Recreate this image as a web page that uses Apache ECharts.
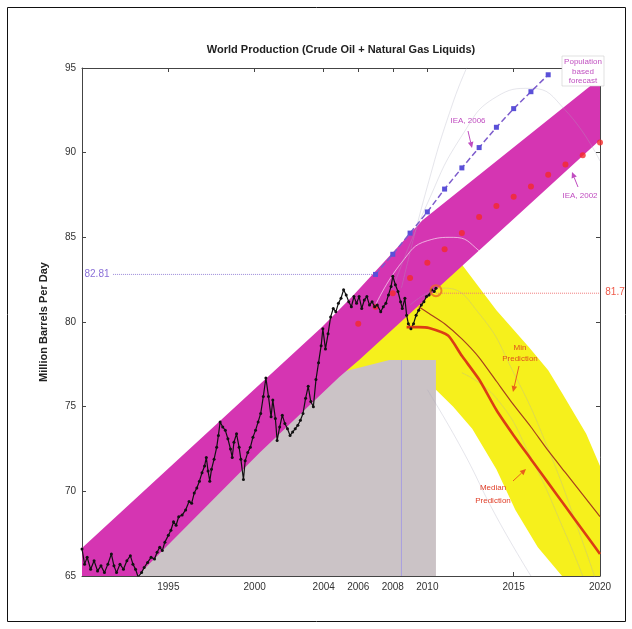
<!DOCTYPE html>
<html>
<head>
<meta charset="utf-8">
<script src="https://cdn.jsdelivr.net/npm/echarts@6/dist/echarts.min.js"></script>
<style>
html,body{margin:0;padding:0;background:#fff;}
#main{width:632px;height:629px;}
</style>
</head>
<body>
<div id="main"></div>
<script>
// tick labels
var xTicks = [1995, 2000, 2004, 2006, 2008, 2010, 2015, 2020];

// monthly-ish production
var obsYears = [1990.0,1990.15,1990.3,1990.5,1990.7,1990.9,1991.1,1991.3,1991.5,1991.7,1991.85,1992.0,1992.2,1992.4,1992.6,1992.8,1992.95,1993.1,1993.25,1993.45,1993.6,1993.8,1994.0,1994.2,1994.35,1994.5,1994.65,1994.8,1995.0,1995.15,1995.3,1995.45,1995.6,1995.8,1996.0,1996.2,1996.35,1996.5,1996.65,1996.8,1996.95,1997.1,1997.2,1997.3,1997.4,1997.5,1997.65,1997.8,1997.9,1998.0,1998.15,1998.3,1998.45,1998.6,1998.7,1998.8,1998.95,1999.1,1999.2,1999.35,1999.45,1999.6,1999.75,1999.9,2000.05,2000.2,2000.35,2000.5,2000.65,2000.8,2000.95,2001.05,2001.2,2001.3,2001.45,2001.6,2001.75,2001.9,2002.05,2002.2,2002.35,2002.5,2002.65,2002.8,2002.95,2003.1,2003.25,2003.4,2003.55,2003.7,2003.85,2003.95,2004.1,2004.25,2004.4,2004.55,2004.7,2004.85,2005.0,2005.15,2005.3,2005.45,2005.6,2005.75,2005.9,2006.05,2006.2,2006.35,2006.5,2006.65,2006.8,2006.95,2007.1,2007.3,2007.45,2007.6,2007.75,2007.9,2008.0,2008.15,2008.3,2008.45,2008.55,2008.7,2008.8,2008.9,2009.05,2009.2,2009.35,2009.5,2009.65,2009.8,2009.95,2010.1,2010.25,2010.4,2010.5];
var obsValues = [66.6,65.7,66.1,65.4,65.9,65.3,65.6,65.2,65.7,66.3,65.6,65.2,65.7,65.4,65.9,66.2,65.7,65.4,64.95,65.2,65.5,65.8,66.1,66.0,66.4,66.7,66.5,67.0,67.4,67.7,68.2,68.0,68.5,68.6,68.9,69.4,69.3,69.9,70.2,70.6,71.1,71.5,72.0,71.2,70.6,71.3,71.9,72.6,73.3,74.1,73.8,73.6,73.1,72.5,72.0,72.9,73.4,72.6,71.9,70.7,71.8,72.3,72.6,73.2,73.6,74.1,74.6,75.6,76.7,75.6,74.4,75.4,74.3,73.0,73.8,74.5,74.0,73.7,73.3,73.5,73.7,73.9,74.2,74.6,75.5,76.2,75.3,75.0,76.6,77.6,78.6,79.6,78.4,79.3,80.3,80.8,80.6,81.1,81.4,81.9,81.6,81.2,80.9,81.5,81.1,81.5,80.8,81.3,81.5,81.0,81.2,80.9,81.0,80.6,80.9,81.1,81.6,82.1,82.7,82.2,81.8,81.2,80.8,81.4,80.4,79.9,79.6,79.9,80.4,80.7,81.0,81.2,81.5,81.6,81.9,81.8,82.0];

// IEA forecasts
var iea2006Years = [2007,2008,2009,2010,2011,2012,2013,2014,2015,2016,2017];
var iea2006Values = [82.81,84.0,85.25,86.5,87.85,89.1,90.3,91.5,92.6,93.6,94.6];
var iea2002Years = [2006,2007,2008,2009,2010,2011,2012,2013,2014,2015,2016,2017,2018,2019,2020];
var iea2002Values = [79.9,80.9,81.7,82.6,83.5,84.3,85.25,86.2,86.85,87.4,88.0,88.7,89.3,89.85,90.6];

// predictions
var medianYears = [2008.8,2009.5,2010.1,2011.2,2012,2013,2014,2015,2016,2017,2018,2019,2020];
var medianValues = [79.7,79.7,79.65,79.2,78.0,76.6,74.8,73.3,71.9,70.5,69.1,67.7,66.3];
var minYears = [2009.5,2010.1,2011,2012,2013,2014,2015,2016,2017,2018,2019,2020];
var minValues = [80.9,80.5,79.9,79.0,77.9,76.5,75.1,73.8,72.4,71.1,69.8,68.5];

// shaded regions (outline vertices)
var bandOutline = [[1990,65],[1990,66.65],[2003.9,79.7],[2005.65,81.5],[2009.7,86.0],[2020,94.4],[2020,90.75],[2014.9,86.0],[2010.5,81.9],[2006.05,77.75],[2004.9,76.75],[2000.3,72.3],[1993.2,65]];
var yellowOutline = [[2004.6,76.9],[2010.5,82.3],[2012.0,83.4],[2014.0,80.7],[2015.9,78.5],[2017.0,77.15],[2017.8,75.8],[2019.2,73.4],[2020,71.5],[2020,65],[2017.8,65],[2016.4,66.7],[2015.1,68.9],[2014.0,71.3],[2012.6,73.7],[2011.5,75.0],[2010.5,76.0],[2009,76.6]];
var grayOutline = [[1991,65],[2004.9,77.0],[2007.8,77.75],[2010.5,77.75],[2010.5,65]];

// faint individual model curves
var modelCurves = [
	[[2007,81],[2008.5,83.5],[2010,84.8],[2011.5,85],[2013,84.2],[2015,82],[2017,78.5],[2020,72]],
	[[2008,82],[2010,87],[2012,91],[2014,93.3],[2016,93.8],[2018,92.5],[2020,89.5]],
	[[2008.5,82],[2010,88],[2011.5,93],[2012.5,95.5]],
	[[2009,81],[2011,82],[2013,80.5],[2015,77],[2017,72.5],[2019,67],[2020,64]],
	[[2010,76],[2012,72.5],[2014,68.5],[2016,65]],
	[[2012,77],[2014,75.5],[2016,72],[2018,67.5],[2019,65]]
];

var peakLine = [[2008.5,65],[2008.5,77.75]];
var ref2006 = [[1991.8,82.81],[2007,82.81]];
var ref2010 = [[2010.5,81.7],[2020,81.7]];
var lastPoint = [[2010.5,81.85]];

function pairs(xs, ys){
	return xs.map(function(x, i){ return [x, ys[i]]; });
}

function polygonSeries(name, pts, color, z){
	return {
		type: 'custom', name: name, z: z, silent: true, clip: true,
		data: pts,
		renderItem: function(params, api){
			if (params.dataIndex !== 0) return null;
			var points = pts.map(function(p){ return api.coord(p); });
			return { type: 'polygon', shape: { points: points }, style: { fill: color } };
		}
	};
}

function arrow(x1, y1, x2, y2, color){
	var a = Math.atan2(y2 - y1, x2 - x1), L = 6, W = 2.8;
	var bx = x2 - L * Math.cos(a), by = y2 - L * Math.sin(a);
	return [
		{type: 'line', shape: {x1: x1, y1: y1, x2: bx, y2: by}, style: {stroke: color, lineWidth: 1}},
		{type: 'polygon', shape: {points: [[x2, y2], [bx + W * Math.sin(a), by - W * Math.cos(a)], [bx - W * Math.sin(a), by + W * Math.cos(a)]]}, style: {fill: color}}
	];
}

function note(text, x, y, color){
	return {type: 'text', x: x, y: y, style: {text: text, fill: color, font: '8px "Liberation Sans", Arial', align: 'center', verticalAlign: 'middle'}};
}

var chart = echarts.init(document.getElementById('main'));

var series = [
	polygonSeries('yellow', yellowOutline, '#f6f01c', 1),
	polygonSeries('gray', grayOutline, '#cbc3c6', 2),
	polygonSeries('band', bandOutline, '#d535b2', 3)
];

modelCurves.forEach(function(c, i){
	series.push({
		type: 'line', data: c, smooth: true, symbol: 'none', z: 4, silent: true,
		lineStyle: { color: i === 0 ? 'rgba(255,255,255,0.6)' : 'rgba(170,170,190,0.3)', width: 1 }
	});
});

series.push(
	{ type: 'line', data: peakLine, symbol: 'none', z: 5, lineStyle: { color: '#a89ee0', width: 1 } },
	{ type: 'line', data: ref2006, symbol: 'none', z: 5, lineStyle: { color: '#9a88d8', width: 1, type: 'dotted' } },
	{ type: 'line', data: ref2010, symbol: 'none', z: 5, lineStyle: { color: '#f07a7a', width: 1, type: 'dotted' } },
	{
		type: 'scatter', name: 'IEA 2002', data: pairs(iea2002Years, iea2002Values), z: 6,
		symbol: 'circle', symbolSize: 6, itemStyle: { color: '#f42a2a' }
	},
	{
		type: 'line', name: 'IEA 2006', data: pairs(iea2006Years, iea2006Values), z: 6,
		symbol: 'rect', symbolSize: 5, itemStyle: { color: '#5a50d8' },
		lineStyle: { color: '#7d5ccc', width: 1.5, type: [6, 3] }
	},
	{
		type: 'line', name: 'Production', data: pairs(obsYears, obsValues), z: 7,
		symbol: 'circle', symbolSize: 3, showAllSymbol: true,
		itemStyle: { color: '#111' }, lineStyle: { color: '#111', width: 1.2 }
	},
	{
		type: 'line', name: 'Min', data: pairs(minYears, minValues), z: 7, smooth: 0.2,
		symbol: 'none', lineStyle: { color: '#a8401c', width: 1.2 }
	},
	{
		type: 'line', name: 'Median', data: pairs(medianYears, medianValues), z: 7, smooth: 0.2,
		symbol: 'none', lineStyle: { color: '#dc3c14', width: 2.6 }
	},
	{
		type: 'scatter', data: lastPoint, z: 8, symbol: 'circle', symbolSize: 11,
		itemStyle: { color: 'rgba(0,0,0,0)', borderColor: '#ec6a22', borderWidth: 2 }
	}
);

var axisFont = { color: '#333', fontSize: 10, fontFamily: '"Liberation Sans", Arial' };

var option = {
	backgroundColor: '#ffffff',
	animation: false,
	grid: { left: 82, right: 32, top: 68, bottom: 53 },
	xAxis: [
		{
			type: 'value', min: 1990, max: 2020, position: 'bottom',
			axisLine: { lineStyle: { color: '#444' } },
			axisTick: { inside: true, length: 4, customValues: xTicks, lineStyle: { color: '#444' } },
			axisLabel: Object.assign({ customValues: xTicks, margin: 6, formatter: function(v){ return String(v); } }, axisFont),
			splitLine: { show: false }
		},
		{
			type: 'value', min: 1990, max: 2020, position: 'top',
			axisLine: { lineStyle: { color: '#444' } },
			axisTick: { inside: true, length: 4, customValues: xTicks, lineStyle: { color: '#444' } },
			axisLabel: { show: false },
			splitLine: { show: false }
		}
	],
	yAxis: [
		{
			type: 'value', min: 65, max: 95, interval: 5, position: 'left',
			name: 'Million Barrels Per Day', nameLocation: 'middle', nameRotate: 90, nameGap: 33,
			nameTextStyle: { fontSize: 11, fontWeight: 'bold', color: '#222', fontFamily: '"Liberation Sans", Arial' },
			axisLine: { show: true, lineStyle: { color: '#444' } },
			axisTick: { show: true, inside: true, length: 4, lineStyle: { color: '#444' } },
			axisLabel: Object.assign({ margin: 6 }, axisFont),
			splitLine: { show: false }
		},
		{
			type: 'value', min: 65, max: 95, interval: 5, position: 'right',
			axisLine: { show: true, lineStyle: { color: '#444' } },
			axisTick: { show: true, inside: true, length: 4, lineStyle: { color: '#444' } },
			axisLabel: { show: false },
			splitLine: { show: false }
		}
	],
	series: series
};

chart.setOption(option);

// annotations
var g = [
	{ type: 'rect', shape: { x: 7.5, y: 7.5, width: 618, height: 614 }, style: { fill: 'none', stroke: '#111', lineWidth: 1 } },
	{ type: 'text', x: 341, y: 50, style: { text: 'World Production (Crude Oil + Natural Gas Liquids)', fill: '#222', font: 'bold 11px "Liberation Sans", Arial', align: 'center', verticalAlign: 'middle' } },
	{ type: 'text', x: 97, y: 274, style: { text: '82.81', fill: '#8a70d8', font: '10px "Liberation Sans", Arial', align: 'center', verticalAlign: 'middle' } },
	{ type: 'text', x: 615, y: 292, style: { text: '81.7', fill: '#ef5a4a', font: '10px "Liberation Sans", Arial', align: 'center', verticalAlign: 'middle' } },
	note('IEA, 2006', 468, 121, '#c04cc0'),
	note('IEA, 2002', 580, 196, '#c04cc0'),
	{ type: 'rect', shape: { x: 562, y: 56, width: 42, height: 30 }, style: { fill: '#fff', stroke: '#ccc', lineWidth: 0.6 }, z: 99 },
	note('Population', 583, 62, '#c050c0'),
	note('based', 583, 72, '#c050c0'),
	note('forecast', 583, 81, '#c050c0'),
	note('Min', 520, 348, '#e0501e'),
	note('Prediction', 520, 359, '#e0501e'),
	note('Median', 493, 488, '#e0402a'),
	note('Prediction', 493, 501, '#e0402a')
];
g = g.concat(
	arrow(468, 131, 472, 148, '#c04cc0'),
	arrow(578, 187, 572, 172, '#c04cc0'),
	arrow(519, 366, 513, 392, '#e8601c'),
	arrow(513, 481, 526, 469, '#e8601c')
);
g.forEach(function(el){ if (el.z === undefined) el.z = 100; });
chart.setOption({ graphic: g });
</script>
</body>
</html>
